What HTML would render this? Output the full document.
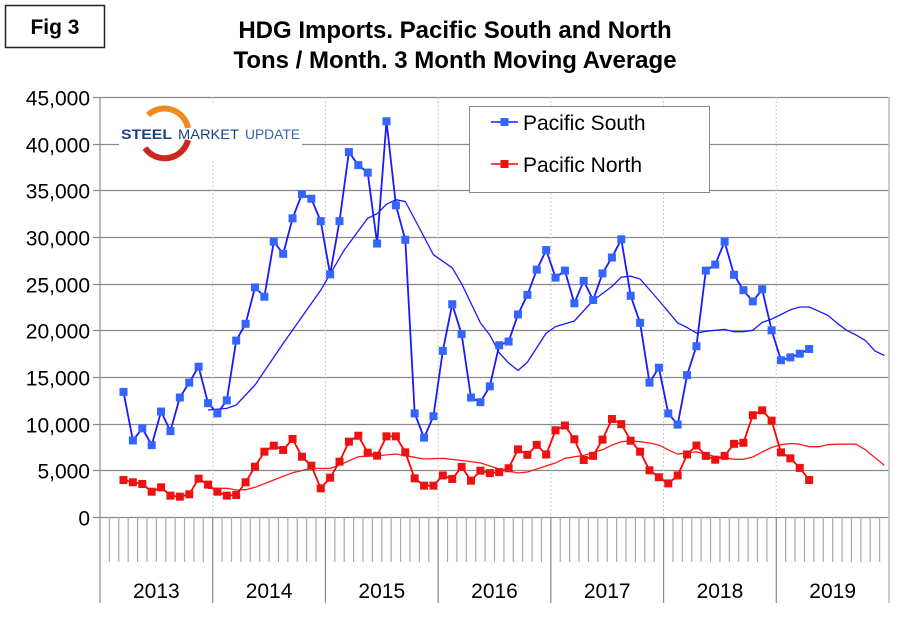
<!DOCTYPE html>
<html><head><meta charset="utf-8"><style>
body{margin:0;background:#fff;}
svg{display:block;font-family:"Liberation Sans",Arial,sans-serif;}
</style></head><body>
<svg id="chart" width="910" height="622" viewBox="0 0 910 622">
<rect x="0" y="0" width="910" height="622" fill="#fff"/>
<rect x="5.5" y="5.5" width="99" height="42" fill="#fff" stroke="#222" stroke-width="1.5"/>
<text x="55" y="34" text-anchor="middle" font-size="21" font-weight="bold">Fig 3</text>
<text x="455" y="38" text-anchor="middle" font-size="24" font-weight="bold">HDG Imports. Pacific South and North</text>
<text x="455" y="68" text-anchor="middle" font-size="24" font-weight="bold">Tons / Month. 3 Month Moving Average</text>
<g id="grid"></g>
<g id="axes"></g>
<g id="series"></g>
<g>
<rect x="119" y="104" width="183" height="56" fill="#fff"/>
<path d="M148 115 A24 24 0 0 1 188 128" fill="none" stroke="#f08a1c" stroke-width="6"/>
<path d="M145 148 A24 24 0 0 0 188 140" fill="none" stroke="#c8281e" stroke-width="6"/>
<text x="121" y="139" font-size="14" font-weight="bold" fill="#1d3f87" textLength="51" lengthAdjust="spacingAndGlyphs">STEEL</text>
<text x="178" y="139" font-size="14" fill="#1d3f87" textLength="61" lengthAdjust="spacingAndGlyphs">MARKET</text>
<text x="245" y="139" font-size="14" fill="#3a62b0" textLength="55" lengthAdjust="spacingAndGlyphs">UPDATE</text>
</g>
<g>
<rect x="469.5" y="106.5" width="240" height="86" fill="#fff" stroke="#888" stroke-width="1"/>
<line x1="491" y1="122" x2="518" y2="122" stroke="#1a1aff" stroke-width="1.5"/>
<rect x="500.5" y="118" width="8" height="8" fill="#3366ff"/>
<text x="523" y="130" font-size="21">Pacific South</text>
<line x1="491" y1="164" x2="518" y2="164" stroke="#ff0000" stroke-width="1.5"/>
<rect x="500.5" y="160" width="8" height="8" fill="#ee1111"/>
<text x="523" y="172" font-size="21">Pacific North</text>
</g>
</svg>
<script>
const yTicks=[0,5000,10000,15000,20000,25000,30000,35000,40000,45000];
const years=["2013","2014","2015","2016","2017","2018","2019"];
const startIndex=2;
const southValues=[13400,8200,9500,7700,11300,9200,12800,14400,16100,12200,11100,12500,18900,20700,24600,23600,29500,28200,32000,34600,34100,31700,26000,31700,39100,37700,36900,29300,42400,33400,29700,11100,8500,10800,17800,22800,19600,12800,12300,14000,18400,18800,21700,23800,26500,28600,25650,26400,22900,25300,23250,26100,27800,29750,23700,20800,14400,16000,11100,9900,15200,18300,26400,27050,29500,25950,24300,23100,24400,20000,16800,17100,17500,18000];
const northValues=[3960,3720,3540,2710,3180,2290,2180,2430,4110,3470,2710,2290,2360,3720,5390,7000,7640,7180,8360,6460,5500,3070,4210,5930,8070,8710,6890,6570,8640,8640,6930,4140,3360,3360,4450,4070,5370,3890,4960,4700,4810,5220,7250,6660,7730,6700,9290,9800,8330,6110,6550,8290,10500,9950,8170,7000,5000,4260,3600,4450,6700,7660,6550,6140,6550,7840,7950,10900,11430,10320,6920,6290,5260,3960];
const southMaIdx=[11,13,14,16,19,23,25.5,28,29,30,31,32,34,35,37,38,40,41,42,43,44,45,47,48,50,52,54,55,56,57,59,60,61,62,63,64,65,66,67,68,69,70,71,72,73,74,75,76,77,78,79,80,81,82,83];
const southMa=[11460,11640,12000,14140,18600,24300,28600,32000,32500,33500,34000,33800,30000,28100,26700,25000,20800,19500,17600,16500,15700,16600,19700,20400,21000,23200,24700,25700,25800,25500,23200,22000,20800,20300,19700,19900,20000,20100,19850,19850,20000,20850,21200,21700,22200,22500,22500,22050,21600,20750,20000,19500,18900,17800,17300];
const northMaIdx=[11,12,13,14,15,16,18,20,22,24,25,27,29,31,32,34,36,38,40,42,44,45,46,48,49,51,53,54,55,56,57,58,59,60,61,62,63,64,65,66,67,68,69,70,71,72,73,74,75,76,77,78,79,80,81,82,83];
const northMa=[3070,3070,3070,2890,2930,3180,3960,4750,5210,5210,5570,6460,6570,6750,6570,6210,6290,6050,5800,5140,4710,4820,5140,5800,6290,6600,7200,7700,8070,8140,8070,7930,7700,7200,6730,6900,6980,6730,6470,6360,6180,6180,6430,6980,7450,7750,7880,7800,7530,7530,7750,7800,7800,7800,7200,6360,5550];

const NS="http://www.w3.org/2000/svg";
const X0=100,X1=889,Y0=517,Y1=97,MONTHS=84,YMAX=45000;
const mw=(X1-X0)/MONTHS;
function xScale(i){return X0+(i+0.5)*mw;}
function yScale(v){return Y0-(v/YMAX)*(Y0-Y1);}
function mk(tag,attrs,parent){const e=document.createElementNS(NS,tag);for(const k in attrs)e.setAttribute(k,attrs[k]);parent.appendChild(e);return e;}
const grid=document.getElementById('grid'),axes=document.getElementById('axes'),series=document.getElementById('series');

yTicks.forEach(function(t){
  const y=Math.round(yScale(t))+0.5;
  const l=mk('line',{x1:93,x2:X1,y1:y,y2:y,stroke:'#8a8a8a','stroke-width':1.2},grid);
  
  
  const tx=mk('text',{x:90,y:y+8,'text-anchor':'end','font-size':21},axes);
  tx.textContent=t.toLocaleString('en-US');
  
  
});
years.forEach(function(yr,k){
  const x=X0+k*12*mw;
  if(k>0){
    const d=mk('line',{x1:x,x2:x,y1:Y1,y2:Y0,stroke:'#c8c8c8','stroke-width':1,'stroke-dasharray':'2,2'},grid);
    
    
  }
  const s=mk('line',{x1:x,x2:x,y1:Y0,y2:603,stroke:'#888','stroke-width':1.2},axes);
  
  
  const tx=mk('text',{x:x+6*mw,y:598,'text-anchor':'middle','font-size':21},axes);
  tx.textContent=yr;
  
  
});
for(let m=1;m<=MONTHS;m++){
  if(m%12===0)continue;
  const x=X0+m*mw;
  const t=mk('line',{x1:x,x2:x,y1:Y0,y2:562,stroke:'#aaa','stroke-width':1.2},axes);
  
  
}
const yax=mk('line',{x1:X0,x2:X0,y1:Y1,y2:Y0,stroke:'#888','stroke-width':1.2},axes);


const rb=mk('line',{x1:X1,x2:X1,y1:Y1,y2:603,stroke:'#bbb','stroke-width':1.5},axes);



function drawMa(idx,vals,color,name){
  const pts=idx.map(function(i,k){return xScale(i).toFixed(1)+','+yScale(vals[k]).toFixed(1);}).join(' ');
  const p=mk('polyline',{points:pts,fill:'none',stroke:color,'stroke-width':1.3,'stroke-linejoin':'round'},series);
  
  
}
function drawSeries(vals,lineColor,markColor,name){
  const pts=vals.map(function(v,k){return xScale(startIndex+k).toFixed(1)+','+yScale(v).toFixed(1);}).join(' ');
  const p=mk('polyline',{points:pts,fill:'none',stroke:lineColor,'stroke-width':1.8},series);
  
  
  vals.forEach(function(v,k){
    const r=mk('rect',{x:xScale(startIndex+k)-4,y:yScale(v)-4,width:8,height:8,fill:markColor},series);
    
    
  });
}
drawMa(southMaIdx,southMa,'#1a1aff','pacific-south-moving-average');
drawMa(northMaIdx,northMa,'#ff1a1a','pacific-north-moving-average');
drawSeries(southValues,'#1a1aff','#3366ff','pacific-south');
drawSeries(northValues,'#ff0000','#ee1111','pacific-north');
</script>
</body></html>
